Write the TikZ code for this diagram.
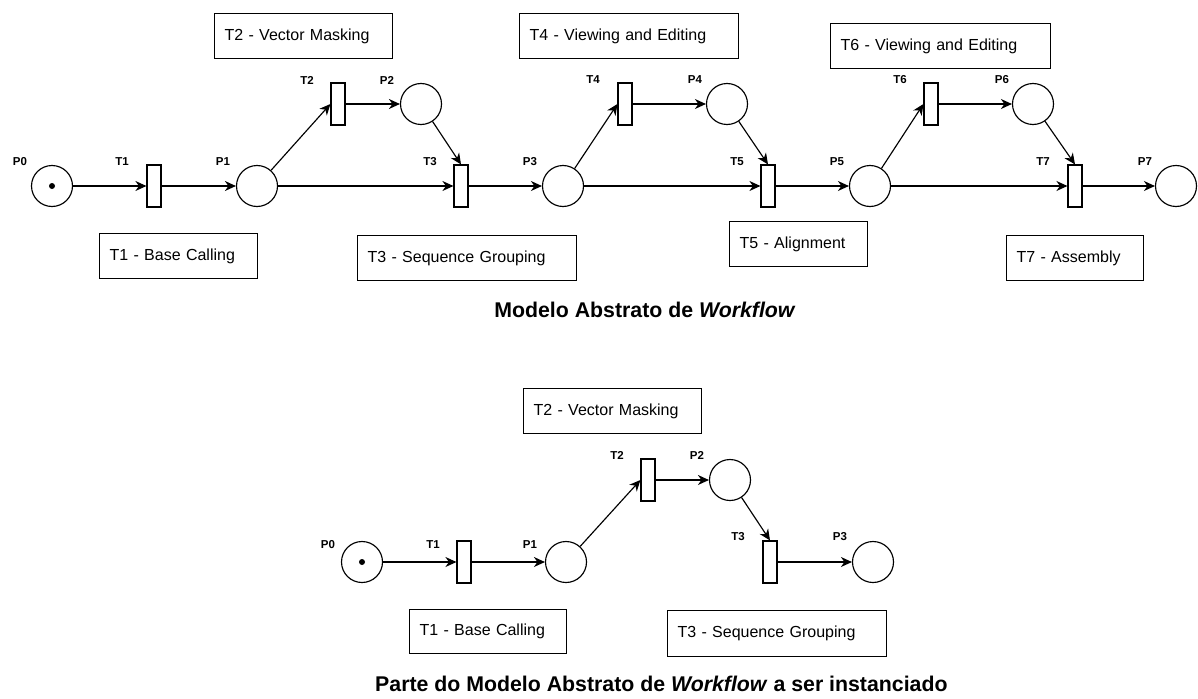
\documentclass[tikz,border=0pt]{standalone}
\usepackage{fontspec}
\setmainfont{Liberation Sans}
\usetikzlibrary{arrows.meta}
\begin{document}
\begin{tikzpicture}[x=1pt,y=-1pt,
 place/.style={circle,draw,line width=1.15pt,minimum size=41pt,inner sep=0pt},
 trans/.style={rectangle,draw,line width=1.15pt,minimum width=14pt,minimum height=42pt,inner sep=0pt},
 token/.style={circle,fill,minimum size=6pt,inner sep=0pt},
 lbl/.style={font=\bfseries\fontsize{11.5}{12}\selectfont,inner sep=0pt},
 desc/.style={rectangle,draw,line width=1.15pt,anchor=north west,inner xsep=10pt,inner ysep=0pt,minimum height=45pt,align=left,font=\fontsize{16}{19}\selectfont},
 arc/.style={-{Stealth[length=11pt,width=10pt,inset=3.5pt]},line width=1.15pt},
 ttl/.style={font=\bfseries\fontsize{21.3}{24}\selectfont,inner sep=0pt}]
\useasboundingbox (0,0) rectangle (1198,698);

% ---------- top net ----------
\node[place] (p0) at (52,186) {};
\node[token] (tok0) at (p0) {};
\node[trans] (t1) at (154,186) {};
\node[place] (p1) at (257,186) {};
\node[trans] (t2) at (338,104) {};
\node[place] (p2) at (421,104) {};
\node[trans] (t3) at (461,186) {};
\node[place] (p3) at (563,186) {};
\node[trans] (t4) at (625,104) {};
\node[place] (p4) at (727,104) {};
\node[trans] (t5) at (768,186) {};
\node[place] (p5) at (870,186) {};
\node[trans] (t6) at (931,104) {};
\node[place] (p6) at (1033,104) {};
\node[trans] (t7) at (1075,186) {};
\node[place] (p7) at (1176,186) {};

\node[lbl] (lp0) at (20,162) {P0};
\node[lbl] (lt1) at (122,162) {T1};
\node[lbl] (lp1) at (223,162) {P1};
\node[lbl] (lt2) at (307,80) {T2};
\node[lbl] (lp2) at (387,80) {P2};
\node[lbl] (lt3) at (430,162) {T3};
\node[lbl] (lp3) at (530,162) {P3};
\node[lbl] (lt4) at (593,80) {T4};
\node[lbl] (lp4) at (695,80) {P4};
\node[lbl] (lt5) at (737,162) {T5};
\node[lbl] (lp5) at (837,162) {P5};
\node[lbl] (lt6) at (900,80) {T6};
\node[lbl] (lp6) at (1002,80) {P6};
\node[lbl] (lt7) at (1043,162) {T7};
\node[lbl] (lp7) at (1145,162) {P7};

\draw[arc] (p0) -- (t1);
\draw[arc] (t1) -- (p1);
\draw[arc] (p1) -- (t2.west);
\draw[arc] (t2) -- (p2);
\draw[arc] (p2) -- (t3.north);
\draw[arc] (p1) -- (t3);
\draw[arc] (t3) -- (p3);
\draw[arc] (p3) -- (t4.west);
\draw[arc] (t4) -- (p4);
\draw[arc] (p4) -- (t5.north);
\draw[arc] (p3) -- (t5);
\draw[arc] (t5) -- (p5);
\draw[arc] (p5) -- (t6.west);
\draw[arc] (t6) -- (p6);
\draw[arc] (p6) -- (t7.north);
\draw[arc] (p5) -- (t7);
\draw[arc] (t7) -- (p7);

\node[desc,text width=158pt] (b2) at (214,13) {T2 - Vector Masking};
\node[desc,text width=199pt] (b4) at (519,13) {T4 - Viewing and Editing};
\node[desc,text width=200pt] (b6) at (830,23) {T6 - Viewing and Editing};
\node[desc,text width=138pt] (b1) at (99,233) {T1 - Base Calling};
\node[desc,text width=199pt] (b3) at (357,235) {T3 - Sequence Grouping};
\node[desc,text width=118pt] (b5) at (729,221) {T5 - Alignment};
\node[desc,text width=117pt] (b7) at (1006,235) {T7 - Assembly};

\node[ttl] (title1) at (645,310) {Modelo Abstrato de \textit{Workflow}};

% ---------- bottom net ----------
\node[place] (q0) at (362,562) {};
\node[token] (tok1) at (q0) {};
\node[trans] (s1) at (464,562) {};
\node[place] (q1) at (566,562) {};
\node[trans] (s2) at (648,480) {};
\node[place] (q2) at (730,480) {};
\node[trans] (s3) at (770,562) {};
\node[place] (q3) at (873,562) {};

\node[lbl] (lq0) at (328,545) {P0};
\node[lbl] (ls1) at (433,545) {T1};
\node[lbl] (lq1) at (530,545) {P1};
\node[lbl] (ls2) at (617,455) {T2};
\node[lbl] (lq2) at (697,455) {P2};
\node[lbl] (ls3) at (738,537) {T3};
\node[lbl] (lq3) at (840,537) {P3};

\draw[arc] (q0) -- (s1);
\draw[arc] (s1) -- (q1);
\draw[arc] (q1) -- (s2.west);
\draw[arc] (s2) -- (q2);
\draw[arc] (q2) -- (s3.north);
\draw[arc] (s3) -- (q3);

\node[desc,text width=158pt] (c2) at (523,388) {T2 - Vector Masking};
\node[desc,text width=137pt,minimum height=44pt] (c1) at (409,609) {T1 - Base Calling};
\node[desc,text width=199pt,minimum height=46pt] (c3) at (667,610) {T3 - Sequence Grouping};

\node[ttl,anchor=west] (title2) at (375,684) {Parte do Modelo Abstrato de \textit{Workflow} a ser instanciado};
\end{tikzpicture}
\end{document}
